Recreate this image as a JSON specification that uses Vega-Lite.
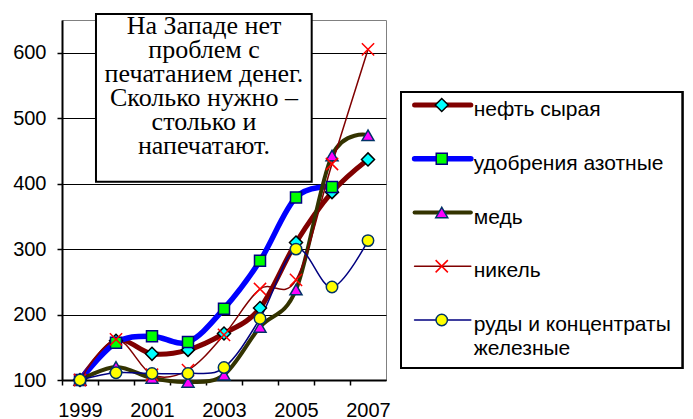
{
  "$schema": "https://vega.github.io/schema/vega-lite/v6.json",
  "width": 324,
  "height": 360,
  "autosize": {"type": "none"},
  "padding": {"left": 62, "top": 20, "right": 307, "bottom": 39},
  "config": {
    "view": {"stroke": "#808080", "strokeWidth": 1},
    "legend": {"disable": true},
    "font": "Liberation Sans"
  },
  "datasets": {
    "series": [
      {"year": 1999, "series": "нефть сырая", "value": 100},
      {"year": 2000, "series": "нефть сырая", "value": 160},
      {"year": 2001, "series": "нефть сырая", "value": 140},
      {"year": 2002, "series": "нефть сырая", "value": 146},
      {"year": 2003, "series": "нефть сырая", "value": 171},
      {"year": 2004, "series": "нефть сырая", "value": 210},
      {"year": 2005, "series": "нефть сырая", "value": 310},
      {"year": 2006, "series": "нефть сырая", "value": 387},
      {"year": 2007, "series": "нефть сырая", "value": 437},
      {"year": 1999, "series": "удобрения азотные", "value": 100},
      {"year": 2000, "series": "удобрения азотные", "value": 157},
      {"year": 2001, "series": "удобрения азотные", "value": 167},
      {"year": 2002, "series": "удобрения азотные", "value": 158},
      {"year": 2003, "series": "удобрения азотные", "value": 209},
      {"year": 2004, "series": "удобрения азотные", "value": 282},
      {"year": 2005, "series": "удобрения азотные", "value": 379},
      {"year": 2006, "series": "удобрения азотные", "value": 395},
      {"year": 1999, "series": "медь", "value": 100},
      {"year": 2000, "series": "медь", "value": 120},
      {"year": 2001, "series": "медь", "value": 103},
      {"year": 2002, "series": "медь", "value": 97},
      {"year": 2003, "series": "медь", "value": 108},
      {"year": 2004, "series": "медь", "value": 181},
      {"year": 2005, "series": "медь", "value": 238},
      {"year": 2006, "series": "медь", "value": 443},
      {"year": 2007, "series": "медь", "value": 474},
      {"year": 1999, "series": "никель", "value": 100},
      {"year": 2000, "series": "никель", "value": 162},
      {"year": 2001, "series": "никель", "value": 108},
      {"year": 2002, "series": "никель", "value": 115},
      {"year": 2003, "series": "никель", "value": 169},
      {"year": 2004, "series": "никель", "value": 239},
      {"year": 2005, "series": "никель", "value": 253},
      {"year": 2006, "series": "никель", "value": 430},
      {"year": 2007, "series": "никель", "value": 605},
      {"year": 1999, "series": "руды и концентраты железные", "value": 100},
      {"year": 2000, "series": "руды и концентраты железные", "value": 111},
      {"year": 2001, "series": "руды и концентраты железные", "value": 110},
      {"year": 2002, "series": "руды и концентраты железные", "value": 110},
      {"year": 2003, "series": "руды и концентраты железные", "value": 119},
      {"year": 2004, "series": "руды и концентраты железные", "value": 194},
      {"year": 2005, "series": "руды и концентраты железные", "value": 300},
      {"year": 2006, "series": "руды и концентраты железные", "value": 242},
      {"year": 2007, "series": "руды и концентраты железные", "value": 313}
    ],
    "legend": [
      {"series": "нефть сырая", "label": "нефть сырая"},
      {"series": "удобрения азотные", "label": "удобрения азотные"},
      {"series": "медь", "label": "медь"},
      {"series": "никель", "label": "никель"},
      {"series": "руды и концентраты железные", "label": "руды и концентраты\nжелезные"}
    ]
  },
  "layer": [
    {
      "data": {"name": "series"},
      "layer": [
        {
          "mark": {"type": "line", "interpolate": "cardinal", "tension": 0, "strokeCap": "round", "strokeJoin": "round"},
          "encoding": {
            "x": {
              "field": "year", "type": "quantitative",
              "scale": {"domain": [1998.5, 2007.5], "nice": false, "zero": false},
              "axis": {
                "title": null,
                "values": [1999, 2000, 2001, 2002, 2003, 2004, 2005, 2006, 2007],
                "format": "d",
                "labelExpr": "datum.value % 2 === 1 ? datum.label : ''",
                "tickOffset": -18,
                "labelOffset": 18,
                "tickSize": 5,
                "tickColor": "black",
                "tickWidth": 1.5,
                "labelPadding": 15,
                "labelFlush": false,
                "labelOverlap": false,
                "labelFont": "Liberation Sans",
                "labelFontSize": 20,
                "labelColor": "black",
                "domainColor": "black",
                "domainWidth": 2,
                "grid": false
              }
            },
            "y": {
              "field": "value", "type": "quantitative",
              "scale": {"domain": [100, 650], "nice": false, "zero": false},
              "axis": {
                "title": null,
                "values": [100, 150, 200, 250, 300, 350, 400, 450, 500, 550, 600, 650],
                "labelExpr": "(datum.value % 100 === 0 && datum.value < 650) ? datum.label : ''",
                "tickSize": {"condition": {"test": "datum.value % 100 === 0", "value": 5}, "value": 3},
                "tickColor": "black",
                "tickWidth": 1.5,
                "labelPadding": 11,
                "labelOverlap": false,
                "labelFont": "Liberation Sans",
                "labelFontSize": 20,
                "labelColor": "black",
                "domainColor": "black",
                "domainWidth": 2,
                "grid": true,
                "gridColor": "black",
                "gridWidth": 1.2,
                "gridOpacity": {"condition": {"test": "datum.value % 100 === 0 && datum.value < 650", "value": 1}, "value": 0}
              }
            },
            "color": {
              "field": "series", "type": "nominal",
              "scale": {
                "domain": ["нефть сырая", "удобрения азотные", "медь", "никель", "руды и концентраты железные"],
                "range": ["#800000", "#0000FF", "#333300", "#800000", "#000080"]
              }
            },
            "strokeWidth": {
              "field": "series", "type": "nominal",
              "scale": {
                "type": "ordinal",
                "domain": ["нефть сырая", "удобрения азотные", "медь", "никель", "руды и концентраты железные"],
                "range": [5, 5.5, 4, 1.5, 1.5]
              }
            }
          }
        },
        {
          "mark": {"type": "point", "filled": true, "opacity": 1, "strokeWidth": 1.5},
          "encoding": {
            "x": {"field": "year", "type": "quantitative"},
            "y": {"field": "value", "type": "quantitative"},
            "shape": {
              "field": "series", "type": "nominal",
              "scale": {
                "domain": ["нефть сырая", "удобрения азотные", "медь", "никель", "руды и концентраты железные"],
                "range": ["diamond", "square", "triangle-up", "M-1,-1L1,1M-1,1L1,-1", "circle"]
              }
            },
            "fill": {
              "field": "series", "type": "nominal",
              "scale": {
                "domain": ["нефть сырая", "удобрения азотные", "медь", "никель", "руды и концентраты железные"],
                "range": ["#00FFFF", "#00FF00", "#FF00FF", "#FF0000", "#FFFF00"]
              }
            },
            "stroke": {
              "field": "series", "type": "nominal",
              "scale": {
                "domain": ["нефть сырая", "удобрения азотные", "медь", "никель", "руды и концентраты железные"],
                "range": ["#000000", "#000080", "#003366", "#FF0000", "#003366"]
              }
            },
            "size": {
              "field": "series", "type": "nominal",
              "scale": {
                "type": "ordinal",
                "domain": ["нефть сырая", "удобрения азотные", "медь", "никель", "руды и концентраты железные"],
                "range": [169, 121, 144, 150, 130]
              }
            }
          }
        },
        {
          "data": {"values": [{}]},
          "mark": {"type": "rect", "fill": "white", "stroke": "black", "strokeWidth": 2},
          "encoding": {
            "x": {"datum": 1999.444, "type": "quantitative", "title": null},
            "x2": {"datum": 2005.436},
            "y": {"datum": 659.2, "type": "quantitative", "title": null},
            "y2": {"datum": 403}
          }
        },
        {
          "data": {"values": [{}]},
          "mark": {
            "type": "text",
            "text": ["На Западе нет", "проблем с", "печатанием денег.", "Сколько нужно –", "столько и", "напечатают."],
            "font": "Liberation Serif",
            "fontSize": 26,
            "lineHeight": 24,
            "align": "center",
            "baseline": "top",
            "dy": -1,
            "color": "black"
          },
          "encoding": {
            "x": {"datum": 2002.444, "type": "quantitative", "title": null},
            "y": {"datum": 659.2, "type": "quantitative", "title": null}
          }
        }
      ]
    },
    {
      "data": {"name": "legend"},
      "layer": [
        {
          "mark": {"type": "rect", "fill": "white", "stroke": "black", "strokeWidth": 2, "yOffset": -13, "y2Offset": 48},
          "encoding": {
            "x": {"datum": 0, "type": "quantitative", "scale": {"domain": [0, 291], "range": [339, 630]}, "axis": null},
            "x2": {"datum": 290},
            "y": {"datum": "нефть сырая", "type": "nominal", "scale": {"type": "point", "domain": ["нефть сырая", "удобрения азотные", "медь", "никель", "руды и концентраты железные"], "range": [85, 300], "padding": 0}, "axis": null},
            "y2": {"datum": "руды и концентраты железные"}
          }
        },
        {
          "mark": {"type": "rule", "strokeCap": "round"},
          "encoding": {
            "x": {"datum": 14, "type": "quantitative", "axis": null},
            "x2": {"datum": 72},
            "y": {"field": "series", "type": "nominal", "axis": null},
            "color": {
              "field": "series", "type": "nominal",
              "scale": {
                "domain": ["нефть сырая", "удобрения азотные", "медь", "никель", "руды и концентраты железные"],
                "range": ["#800000", "#0000FF", "#333300", "#800000", "#000080"]
              }
            },
            "strokeWidth": {
              "field": "series", "type": "nominal",
              "scale": {
                "type": "ordinal",
                "domain": ["нефть сырая", "удобрения азотные", "медь", "никель", "руды и концентраты железные"],
                "range": [5, 5.5, 4, 1.5, 1.5]
              }
            }
          }
        },
        {
          "mark": {"type": "point", "filled": true, "opacity": 1, "strokeWidth": 1.5},
          "encoding": {
            "x": {"datum": 42, "type": "quantitative", "axis": null},
            "y": {"field": "series", "type": "nominal", "axis": null},
            "shape": {
              "field": "series", "type": "nominal",
              "scale": {
                "domain": ["нефть сырая", "удобрения азотные", "медь", "никель", "руды и концентраты железные"],
                "range": ["diamond", "square", "triangle-up", "M-1,-1L1,1M-1,1L1,-1", "circle"]
              }
            },
            "fill": {
              "field": "series", "type": "nominal",
              "scale": {
                "domain": ["нефть сырая", "удобрения азотные", "медь", "никель", "руды и концентраты железные"],
                "range": ["#00FFFF", "#00FF00", "#FF00FF", "#FF0000", "#FFFF00"]
              }
            },
            "stroke": {
              "field": "series", "type": "nominal",
              "scale": {
                "domain": ["нефть сырая", "удобрения азотные", "медь", "никель", "руды и концентраты железные"],
                "range": ["#000000", "#000080", "#003366", "#FF0000", "#003366"]
              }
            },
            "size": {
              "field": "series", "type": "nominal",
              "scale": {
                "type": "ordinal",
                "domain": ["нефть сырая", "удобрения азотные", "медь", "никель", "руды и концентраты железные"],
                "range": [169, 121, 144, 150, 130]
              }
            }
          }
        },
        {
          "mark": {"type": "text", "align": "left", "baseline": "top", "dy": -6, "font": "Liberation Sans", "fontSize": 21, "lineHeight": 24, "lineBreak": "\n", "color": "black"},
          "encoding": {
            "x": {"datum": 75, "type": "quantitative", "axis": null},
            "y": {"field": "series", "type": "nominal", "axis": null},
            "text": {"field": "label", "type": "nominal"}
          }
        }
      ]
    }
  ],
  "resolve": {"scale": {"x": "independent", "y": "independent"}}
}
